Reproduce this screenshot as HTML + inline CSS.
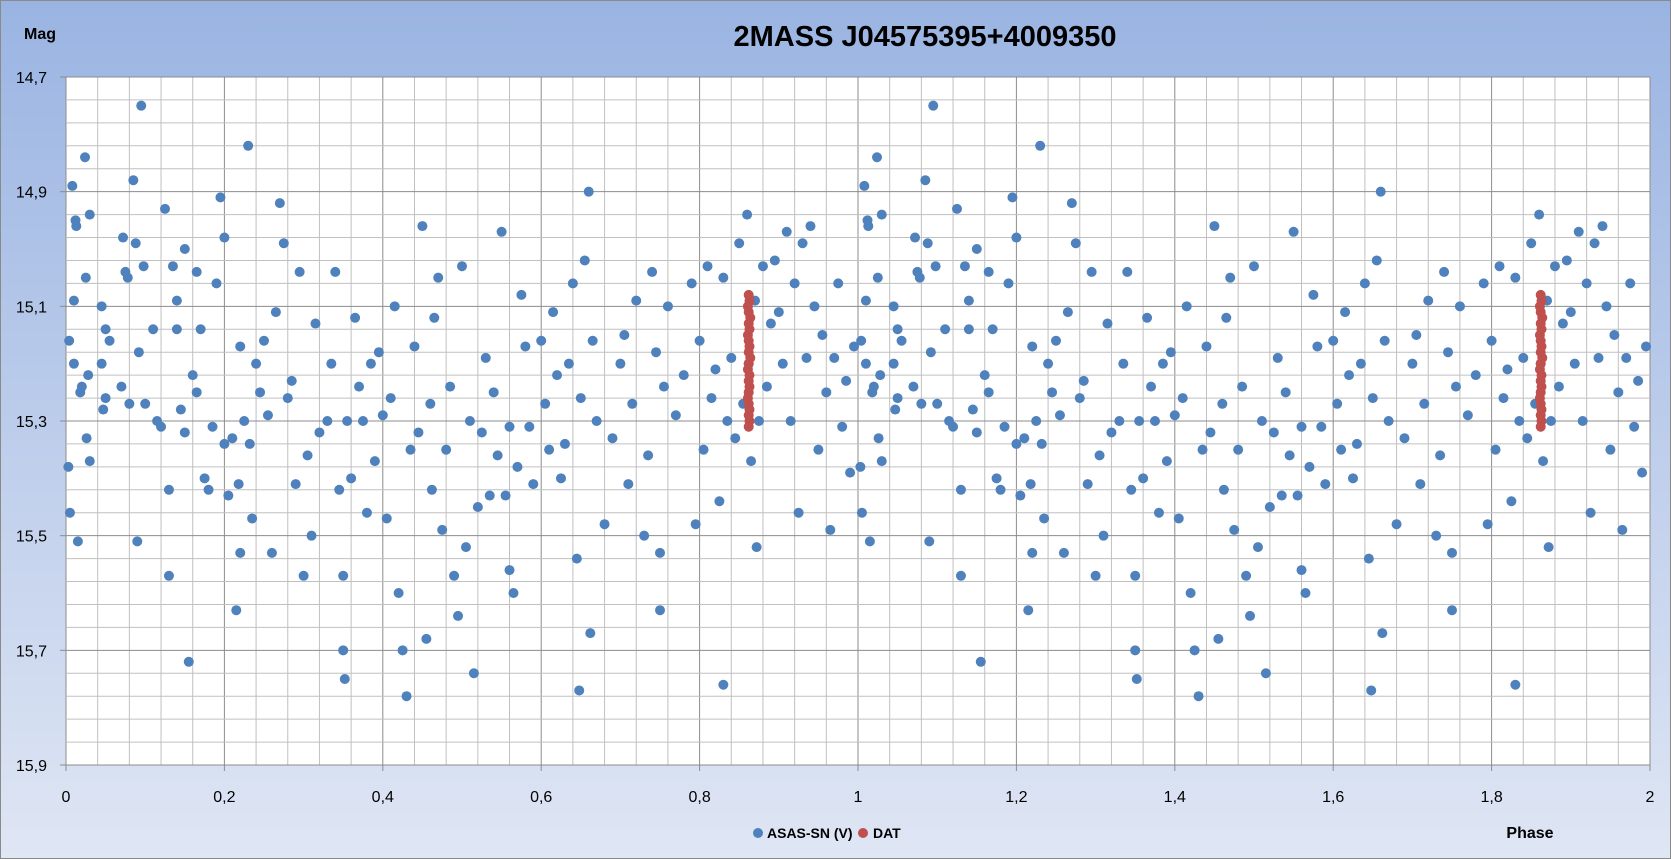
<!DOCTYPE html>
<html><head><meta charset="utf-8"><style>
body{margin:0;padding:0;}
svg{display:block;font-family:"Liberation Sans",sans-serif;}
</style></head><body>
<svg id="chart" width="1671" height="859" viewBox="0 0 1671 859">
<defs><linearGradient id="bg" x1="0" y1="0" x2="0" y2="1">
<stop offset="0" stop-color="#9ab4e2"/><stop offset="1" stop-color="#dfe6f4"/></linearGradient></defs>
<rect x="0.5" y="0.5" width="1670" height="858" fill="url(#bg)" stroke="#8a8a8a"/>
<text x="925" y="46" font-size="29" font-weight="bold" text-anchor="middle" fill="#000">2MASS J04575395+4009350</text>
<text x="24" y="39" font-size="16" font-weight="bold" fill="#000">Mag</text>
<text x="1530" y="838" font-size="16" font-weight="bold" text-anchor="middle" fill="#000">Phase</text>
<rect x="66" y="77" width="1584" height="688" fill="#fff"/>
<g id="grid"></g><g id="ticks"></g><g id="points"></g>
<g>
<circle cx="758" cy="833" r="5" fill="#4f81bd"/>
<text x="767" y="838" font-size="14" font-weight="bold">ASAS-SN (V)</text>
<circle cx="863" cy="833" r="5" fill="#c0504d"/>
<text x="873" y="838" font-size="14" font-weight="bold">DAT</text>
</g>
</svg>
<script>
const xTicks=[0,0.2,0.4,0.6,0.8,1,1.2,1.4,1.6,1.8,2];
const xTickLabels=["0","0,2","0,4","0,6","0,8","1","1,2","1,4","1,6","1,8","2"];
const yTicks=[14.7,14.9,15.1,15.3,15.5,15.7,15.9];
const yTickLabels=["14,7","14,9","15,1","15,3","15,5","15,7","15,9"];
const asasPhase=[0.003,0.004,0.005,0.008,0.01,0.01,0.012,0.013,0.015,0.018,0.02,0.024,0.025,0.026,0.028,0.03,0.03,0.045,0.045,0.047,0.05,0.05,0.055,0.07,0.072,0.075,0.078,0.08,0.085,0.088,0.09,0.092,0.095,0.098,0.1,0.11,0.115,0.12,0.125,0.13,0.13,0.135,0.14,0.14,0.145,0.15,0.15,0.155,0.16,0.165,0.165,0.17,0.175,0.18,0.185,0.19,0.195,0.2,0.2,0.205,0.21,0.215,0.218,0.22,0.22,0.225,0.23,0.232,0.235,0.24,0.245,0.25,0.255,0.26,0.265,0.27,0.275,0.28,0.285,0.29,0.295,0.3,0.305,0.31,0.315,0.32,0.33,0.335,0.34,0.345,0.35,0.35,0.352,0.355,0.36,0.365,0.37,0.375,0.38,0.385,0.39,0.395,0.4,0.405,0.41,0.415,0.42,0.425,0.43,0.435,0.44,0.445,0.45,0.455,0.46,0.462,0.465,0.47,0.475,0.48,0.485,0.49,0.495,0.5,0.505,0.51,0.515,0.52,0.525,0.53,0.535,0.54,0.545,0.55,0.555,0.56,0.56,0.565,0.57,0.575,0.58,0.585,0.59,0.6,0.605,0.61,0.615,0.62,0.625,0.63,0.635,0.64,0.645,0.648,0.65,0.655,0.66,0.662,0.665,0.67,0.68,0.69,0.7,0.705,0.71,0.715,0.72,0.73,0.735,0.74,0.745,0.75,0.75,0.755,0.76,0.77,0.78,0.79,0.795,0.8,0.805,0.81,0.815,0.82,0.825,0.83,0.83,0.835,0.84,0.845,0.85,0.855,0.86,0.862,0.865,0.87,0.872,0.875,0.88,0.885,0.89,0.895,0.9,0.905,0.91,0.915,0.92,0.925,0.93,0.935,0.94,0.945,0.95,0.955,0.96,0.965,0.97,0.975,0.98,0.985,0.99,0.995];
const asasMag=[15.38,15.16,15.46,14.89,15.2,15.09,14.95,14.96,15.51,15.25,15.24,14.84,15.05,15.33,15.22,15.37,14.94,15.1,15.2,15.28,15.14,15.26,15.16,15.24,14.98,15.04,15.05,15.27,14.88,14.99,15.51,15.18,14.75,15.03,15.27,15.14,15.3,15.31,14.93,15.42,15.57,15.03,15.14,15.09,15.28,15.32,15.0,15.72,15.22,15.04,15.25,15.14,15.4,15.42,15.31,15.06,14.91,14.98,15.34,15.43,15.33,15.63,15.41,15.53,15.17,15.3,14.82,15.34,15.47,15.2,15.25,15.16,15.29,15.53,15.11,14.92,14.99,15.26,15.23,15.41,15.04,15.57,15.36,15.5,15.13,15.32,15.3,15.2,15.04,15.42,15.7,15.57,15.75,15.3,15.4,15.12,15.24,15.3,15.46,15.2,15.37,15.18,15.29,15.47,15.26,15.1,15.6,15.7,15.78,15.35,15.17,15.32,14.96,15.68,15.27,15.42,15.12,15.05,15.49,15.35,15.24,15.57,15.64,15.03,15.52,15.3,15.74,15.45,15.32,15.19,15.43,15.25,15.36,14.97,15.43,15.31,15.56,15.6,15.38,15.08,15.17,15.31,15.41,15.16,15.27,15.35,15.11,15.22,15.4,15.34,15.2,15.06,15.54,15.77,15.26,15.02,14.9,15.67,15.16,15.3,15.48,15.33,15.2,15.15,15.41,15.27,15.09,15.5,15.36,15.04,15.18,15.63,15.53,15.24,15.1,15.29,15.22,15.06,15.48,15.16,15.35,15.03,15.26,15.21,15.44,15.05,15.76,15.3,15.19,15.33,14.99,15.27,14.94,15.2,15.37,15.09,15.52,15.3,15.03,15.24,15.13,15.02,15.11,15.2,14.97,15.3,15.06,15.46,14.99,15.19,14.96,15.1,15.35,15.15,15.25,15.49,15.19,15.06,15.31,15.23,15.39,15.17];
const datPhase=[0.862,0.863,0.861,0.862,0.864,0.862,0.863,0.861,0.862,0.863,0.862,0.864,0.862,0.861,0.863,0.862,0.863,0.862,0.861,0.862,0.863,0.862,0.863,0.862];
const datMag=[15.08,15.09,15.1,15.11,15.12,15.13,15.14,15.15,15.16,15.17,15.18,15.19,15.2,15.21,15.22,15.23,15.24,15.25,15.26,15.27,15.28,15.29,15.3,15.31];
const L=66,R=1650,T=77,B=765,XMIN=0,XMAX=2,YMIN=14.7,YMAX=15.9;
const sx=v=>L+(v-XMIN)/(XMAX-XMIN)*(R-L);
const sy=v=>T+(v-YMIN)/(YMAX-YMIN)*(B-T);
const NS="http://www.w3.org/2000/svg";
function mk(tag,attrs,parent){const e=document.createElementNS(NS,tag);for(const k in attrs)e.setAttribute(k,attrs[k]);parent.appendChild(e);return e;}
const grid=document.getElementById('grid'),ticks=document.getElementById('ticks'),pts=document.getElementById('points');
for(let i=0;i<=50;i++){const v=i*0.04;const major=i%5===0;
 const l=mk('line',{x1:sx(v),x2:sx(v),y1:T,y2:B,stroke:major?'#8c8c8c':'#c0c0c0','stroke-width':1},grid);
 
 }
for(let i=0;i<=30;i++){const v=YMIN+i*0.04;const major=i%5===0;
 const l=mk('line',{x1:L,x2:R,y1:sy(v),y2:sy(v),stroke:major?'#8c8c8c':'#c0c0c0','stroke-width':1},grid);
 
 }
xTicks.forEach((v,i)=>{
 const t=mk('line',{x1:sx(v),x2:sx(v),y1:B,y2:B+6,stroke:'#8c8c8c'},ticks);
 
 
 const s=mk('text',{x:sx(v),y:B+37,'font-size':16,'text-anchor':'middle'},ticks);s.textContent=xTickLabels[i];
 
 });
yTicks.forEach((v,i)=>{
 const t=mk('line',{x1:L-6,x2:L,y1:sy(v),y2:sy(v),stroke:'#8c8c8c'},ticks);
 
 
 const s=mk('text',{x:L-19,y:sy(v)+6,'font-size':16,'text-anchor':'end'},ticks);s.textContent=yTickLabels[i];
 
 });
[0,1].forEach(off=>{
 asasPhase.forEach((p,i)=>{const c=mk('circle',{cx:sx(p+off),cy:sy(asasMag[i]),r:5,fill:'#4f81bd'},pts);
  
  });
});
[0,1].forEach(off=>{
 datPhase.forEach((p,i)=>{const c=mk('circle',{cx:sx(p+off),cy:sy(datMag[i]),r:5,fill:'#c0504d'},pts);
  
  });
});
</script>
</body></html>
